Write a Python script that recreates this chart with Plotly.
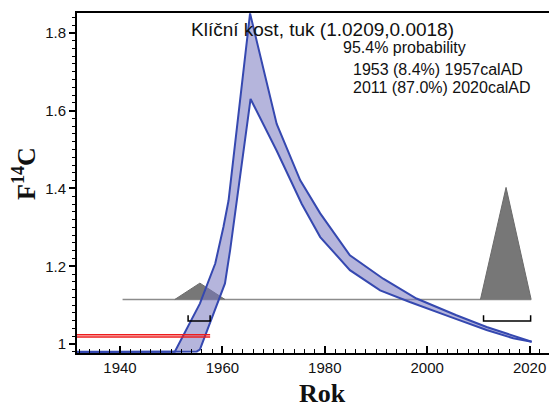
import plotly.graph_objects as go

# ---- data ----
# calibration curve band (F14C), upper and lower edges
upper_years = [1930.0, 1950.7, 1955.6, 1958.6, 1960.2, 1961.2, 1965.4, 1970.6, 1975.2,
               1979.1, 1984.9, 1991.4, 1997.9, 2005.7, 2011.6, 2015.5, 2020.4]
upper_f14c = [0.980, 0.980, 1.104, 1.207, 1.301, 1.369, 1.850, 1.566, 1.421,
              1.336, 1.228, 1.168, 1.117, 1.074, 1.044, 1.027, 1.006]
lower_years = [1930.0, 1955.0, 1955.6, 1957.6, 1960.5, 1961.5, 1962.8, 1965.5, 1970.6,
               1975.5, 1979.1, 1984.9, 1990.8, 1996.6, 2004.5, 2011.6, 2016.8, 2020.4]
lower_f14c = [0.979, 0.981, 0.986, 1.057, 1.156, 1.241, 1.369, 1.630, 1.497,
              1.360, 1.275, 1.190, 1.138, 1.108, 1.070, 1.036, 1.015, 1.006]

# measurement
meas_mean = 1.0209
meas_sigma = 0.0018
meas_years = [1930.0, 1957.6]

# calibrated probability distribution (drawn on baseline)
dist_baseline = 1.1146
dist_base_years = [1940.5, 2020.3]
dist1_years = [1950.7, 1955.6, 1960.5]
dist1_height = [0.0, 0.042, 0.0]
dist2_years = [2010.4, 2015.4, 2020.3]
dist2_height = [0.0, 0.288, 0.0]

# 95.4% ranges (brackets)
range_level = 1.059
range_tick = 0.015
ranges = [(1953.3, 1957.6), (2011.0, 2020.2)]

title_text = "Klíční kost, tuk (1.0209,0.0018)"
info_lines = ["95.4% probability", "1953 (8.4%) 1957calAD", "2011 (87.0%) 2020calAD"]

x_ticks = [1940, 1960, 1980, 2000, 2020]
y_ticks = [1.0, 1.2, 1.4, 1.6, 1.8]
y_ticktext = ["1", "1.2", "1.4", "1.6", "1.8"]

# ---- figure ----
fig = go.Figure()

# baseline of the distribution
fig.add_trace(go.Scatter(x=dist_base_years, y=[dist_baseline] * 2, mode="lines",
                         line=dict(color="#8c8c8c", width=1.5), hoverinfo="skip"))
# distribution triangles
for yrs, hts in [(dist1_years, dist1_height), (dist2_years, dist2_height)]:
    fig.add_trace(go.Scatter(x=yrs, y=[dist_baseline + h for h in hts], mode="lines",
                             fill="toself", fillcolor="#777777",
                             line=dict(color="#6a6a6a", width=1), hoverinfo="skip"))

# calibration band fill
poly_x = upper_years + lower_years[::-1]
poly_y = upper_f14c + lower_f14c[::-1]
fig.add_trace(go.Scatter(x=poly_x, y=poly_y, mode="lines", fill="toself",
                         fillcolor="rgba(120,120,192,0.55)",
                         line=dict(width=0, color="rgba(0,0,0,0)"), hoverinfo="skip"))
# band edges
for xs, ys in [(upper_years, upper_f14c), (lower_years, lower_f14c)]:
    fig.add_trace(go.Scatter(x=xs, y=ys, mode="lines",
                             line=dict(color="#3548b0", width=2), hoverinfo="skip"))

# range brackets
for a, b in ranges:
    fig.add_trace(go.Scatter(x=[a, a, b, b],
                             y=[range_level + range_tick, range_level, range_level, range_level + range_tick],
                             mode="lines", line=dict(color="black", width=1.5), hoverinfo="skip"))

# measurement lines
for k in (-1.6, 1.6):
    fig.add_trace(go.Scatter(x=meas_years, y=[meas_mean + k * meas_sigma] * 2, mode="lines",
                             line=dict(color="#ee1c1c", width=1.5), hoverinfo="skip"))

# page offset: the browser body has an 8px margin
OFF = 8
L, R, T, B = 77 - OFF, 0, 13 - OFF, 54
W, H = 557 - OFF, 407 - OFF
pw, ph = W - L - R, H - T - B


def px(x):
    return (x - OFF - L) / pw


def py(y):
    return (H + OFF - B - y) / ph


txt_font = "Arial, Liberation Sans, sans-serif"
annots = [
    dict(text=title_text, x=px(322), y=py(29), xanchor="center", yanchor="middle",
         font=dict(family=txt_font, size=19, color="#111")),
    dict(text=info_lines[0], x=px(341), y=py(47.4), xanchor="left", yanchor="middle",
         font=dict(family=txt_font, size=16, color="#111")),
    dict(text=info_lines[1], x=px(351), y=py(69.1), xanchor="left", yanchor="middle",
         font=dict(family=txt_font, size=16, color="#111")),
    dict(text=info_lines[2], x=px(351), y=py(87.4), xanchor="left", yanchor="middle",
         font=dict(family=txt_font, size=16, color="#111")),
    dict(text="<b>F<sup>14</sup>C</b>", x=px(24), y=py(174), textangle=-90,
         xanchor="center", yanchor="middle",
         font=dict(family="Liberation Serif, Times New Roman, serif", size=26, color="#111")),
    dict(text="<b>Rok</b>", x=px(322), y=py(393), xanchor="center", yanchor="middle",
         font=dict(family="Liberation Serif, Times New Roman, serif", size=26, color="#111")),
]
for a in annots:
    a.update(xref="paper", yref="paper", showarrow=False)

fig.update_layout(
    width=W, height=H,
    margin=dict(l=L, r=R, t=T, b=B, pad=0),
    paper_bgcolor="white", plot_bgcolor="white",
    showlegend=False,
    annotations=annots,
    xaxis=dict(range=[1931.6, 2025.35], tickmode="array", tickvals=x_ticks,
               ticks="inside", ticklen=7, tickwidth=1.5, tickcolor="black",
               minor=dict(dtick=2, tick0=1940, ticks="inside", ticklen=4, tickwidth=1, tickcolor="black"),
               showline=True, linewidth=2, linecolor="black", mirror=True,
               showgrid=False, zeroline=False,
               tickfont=dict(family=txt_font, size=15, color="#111")),
    yaxis=dict(range=[0.977, 1.851], tickmode="array", tickvals=y_ticks, ticktext=y_ticktext,
               ticks="outside", ticklen=6, tickwidth=1.5, tickcolor="black",
               minor=dict(dtick=0.02, tick0=1.0, ticks="outside", ticklen=3, tickwidth=1, tickcolor="black"),
               showline=True, linewidth=2, linecolor="black", mirror=False,
               showgrid=False, zeroline=False,
               tickfont=dict(family=txt_font, size=15, color="#111")),
)

fig.write_html("out.html")
